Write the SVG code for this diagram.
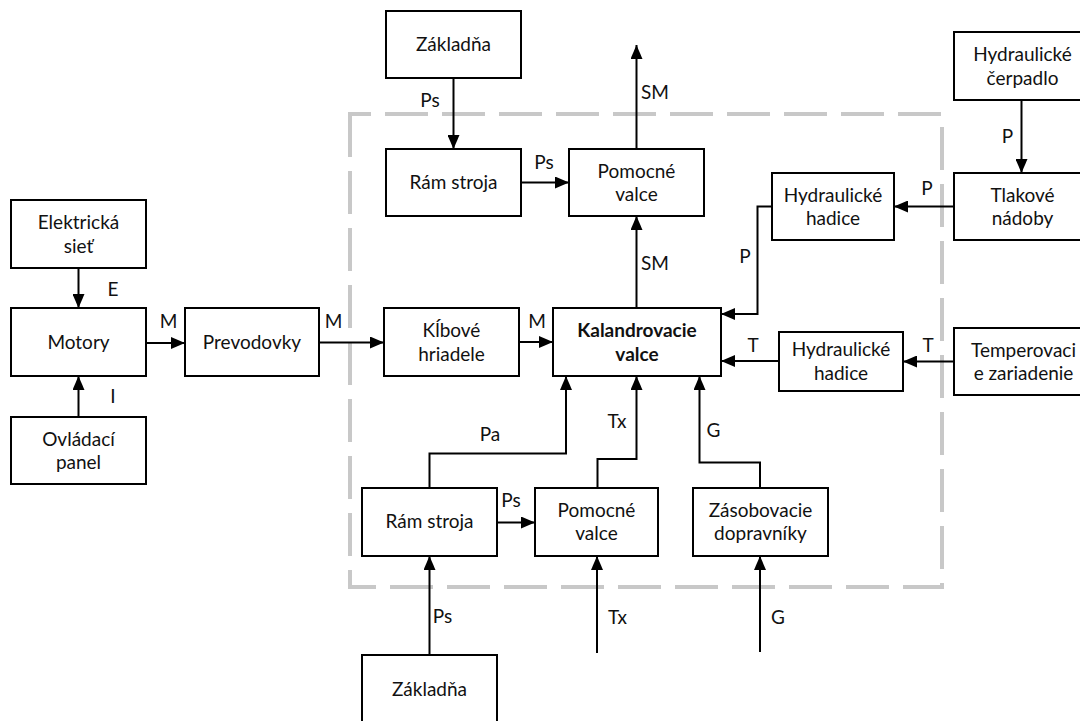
<svg xmlns="http://www.w3.org/2000/svg" width="1080" height="721" viewBox="0 0 1080 721">
  <style>
    .box { fill: #ffffff; stroke: #000000; stroke-width: 2; }
    .t { font-family: Lato, "Open Sans", sans-serif; font-size: 19px; fill: #111111; text-anchor: middle; }
    .b { font-weight: bold; }
    .lbl { font-family: Lato, "Open Sans", sans-serif; font-size: 19px; fill: #111111; text-anchor: middle; }
    .wire { fill: none; stroke: #000000; stroke-width: 2; }
    .arr { marker-end: url(#head); }
    .frame { fill: none; stroke: #c8c8c8; stroke-width: 4; stroke-dasharray: 43 14; }
  </style>
  <defs>
    <marker id="head" markerUnits="userSpaceOnUse" markerWidth="14" markerHeight="12" refX="14" refY="6" orient="auto">
      <path d="M0,0 L14,6 L0,12 Z" fill="#000000"/>
    </marker>
  </defs>
  <rect width="1080" height="721" fill="#ffffff"/>

  <!-- system boundary -->
  <path class="frame" d="M350,114 V587 H942 V114 Z"/>

  <!-- connectors -->
  <g id="connectors">
    <path class="wire arr" d="M453.5,78 V149"/>
    <path class="wire arr" d="M521,182.5 H569"/>
    <path class="wire arr" d="M636.5,149 V45"/>
    <path class="wire arr" d="M636.5,308 V216"/>
    <path class="wire arr" d="M1021.5,100 V173"/>
    <path class="wire arr" d="M954,206.5 H894"/>
    <path class="wire arr" d="M772,206.5 H757.5 V314 H721"/>
    <path class="wire arr" d="M78.5,268 V308"/>
    <path class="wire arr" d="M78.5,417 V376"/>
    <path class="wire arr" d="M146,343 H185"/>
    <path class="wire arr" d="M319,342.5 H384"/>
    <path class="wire arr" d="M519,342 H553"/>
    <path class="wire arr" d="M954,361.5 H903"/>
    <path class="wire arr" d="M779,361 H721"/>
    <path class="wire arr" d="M429.5,488 V453.5 H566 V376"/>
    <path class="wire arr" d="M597.5,488 V459 H636.5 V376"/>
    <path class="wire arr" d="M760,488 V462.5 H699.5 V376"/>
    <path class="wire arr" d="M497,522.5 H535"/>
    <path class="wire arr" d="M429.5,655 V556"/>
    <path class="wire arr" d="M597,653 V556"/>
    <path class="wire arr" d="M760,652 V556"/>
  </g>

  <!-- flow labels -->
  <g id="labels">
    <text class="lbl" x="430" y="107">Ps</text>
    <text class="lbl" x="544" y="168.5">Ps</text>
    <text class="lbl" x="655" y="98.5">SM</text>
    <text class="lbl" x="655" y="269.5">SM</text>
    <text class="lbl" x="1007.5" y="143">P</text>
    <text class="lbl" x="927" y="194.5">P</text>
    <text class="lbl" x="745" y="263">P</text>
    <text class="lbl" x="113" y="295.5">E</text>
    <text class="lbl" x="168.5" y="327.5">M</text>
    <text class="lbl" x="333.5" y="327.5">M</text>
    <text class="lbl" x="113" y="403">I</text>
    <text class="lbl" x="537" y="328">M</text>
    <text class="lbl" x="753" y="351.5">T</text>
    <text class="lbl" x="928" y="351.5">T</text>
    <text class="lbl" x="490" y="440.5">Pa</text>
    <text class="lbl" x="617" y="428">Tx</text>
    <text class="lbl" x="713.5" y="436.5">G</text>
    <text class="lbl" x="511" y="507">Ps</text>
    <text class="lbl" x="442.5" y="623">Ps</text>
    <text class="lbl" x="617.5" y="623.5">Tx</text>
    <text class="lbl" x="778" y="623.5">G</text>
  </g>

  <!-- nodes -->
  <g id="zakladna-top">
    <rect class="box" x="386" y="11" width="135" height="67"/>
    <text class="t" x="453.5" y="50.5">Základňa</text>
  </g>
  <g id="ram-stroja-top">
    <rect class="box" x="386" y="149" width="135" height="67"/>
    <text class="t" x="453.5" y="188.5">Rám stroja</text>
  </g>
  <g id="pomocne-valce-top">
    <rect class="box" x="569" y="149" width="135" height="67"/>
    <text class="t" x="636.5" y="177.5">Pomocné</text>
    <text class="t" x="636.5" y="201">valce</text>
  </g>
  <g id="hydraulicke-cerpadlo">
    <rect class="box" x="954" y="32" width="140" height="68"/>
    <text class="t" x="1022.5" y="61">Hydraulické</text>
    <text class="t" x="1022.5" y="84.5">čerpadlo</text>
  </g>
  <g id="tlakove-nadoby">
    <rect class="box" x="954" y="173" width="140" height="67"/>
    <text class="t" x="1022.5" y="201.5">Tlakové</text>
    <text class="t" x="1022.5" y="225">nádoby</text>
  </g>
  <g id="hydraulicke-hadice-top">
    <rect class="box" x="772" y="173" width="122" height="67"/>
    <text class="t" x="833" y="201.5">Hydraulické</text>
    <text class="t" x="833" y="225">hadice</text>
  </g>
  <g id="elektricka-siet">
    <rect class="box" x="11" y="200" width="135" height="68"/>
    <text class="t" x="78.5" y="229">Elektrická</text>
    <text class="t" x="78.5" y="252.5">sieť</text>
  </g>
  <g id="motory">
    <rect class="box" x="11" y="308" width="135" height="68"/>
    <text class="t" x="78.5" y="348.5">Motory</text>
  </g>
  <g id="prevodovky">
    <rect class="box" x="185" y="308" width="134" height="68"/>
    <text class="t" x="252" y="348.5">Prevodovky</text>
  </g>
  <g id="ovladaci-panel">
    <rect class="box" x="11" y="417" width="135" height="67"/>
    <text class="t" x="78.5" y="445.5">Ovládací</text>
    <text class="t" x="78.5" y="469">panel</text>
  </g>
  <g id="klbove-hriadele">
    <rect class="box" x="384" y="308" width="135" height="68"/>
    <text class="t" x="451.5" y="337">Kĺbové</text>
    <text class="t" x="451.5" y="360.5">hriadele</text>
  </g>
  <g id="kalandrovacie-valce">
    <rect class="box" x="553" y="308" width="168" height="68"/>
    <text class="t b" x="637" y="337">Kalandrovacie</text>
    <text class="t b" x="637" y="360.5">valce</text>
  </g>
  <g id="hydraulicke-hadice-bottom">
    <rect class="box" x="779" y="332" width="124" height="59"/>
    <text class="t" x="841" y="356">Hydraulické</text>
    <text class="t" x="841" y="379.5">hadice</text>
  </g>
  <g id="temperovacie-zariadenie">
    <rect class="box" x="954" y="328" width="140" height="67"/>
    <text class="t" x="1023.5" y="356.5">Temperovaci</text>
    <text class="t" x="1023.5" y="380">e zariadenie</text>
  </g>
  <g id="ram-stroja-bottom">
    <rect class="box" x="362" y="488" width="135" height="68"/>
    <text class="t" x="429.5" y="528">Rám stroja</text>
  </g>
  <g id="pomocne-valce-bottom">
    <rect class="box" x="535" y="488" width="123" height="68"/>
    <text class="t" x="596.5" y="516.5">Pomocné</text>
    <text class="t" x="596.5" y="540">valce</text>
  </g>
  <g id="zasobovacie-dopravniky">
    <rect class="box" x="693" y="488" width="135" height="68"/>
    <text class="t" x="760.5" y="516.5">Zásobovacie</text>
    <text class="t" x="760.5" y="540">dopravníky</text>
  </g>
  <g id="zakladna-bottom">
    <rect class="box" x="362" y="655" width="135" height="70"/>
    <text class="t" x="429.5" y="696">Základňa</text>
  </g>
</svg>
